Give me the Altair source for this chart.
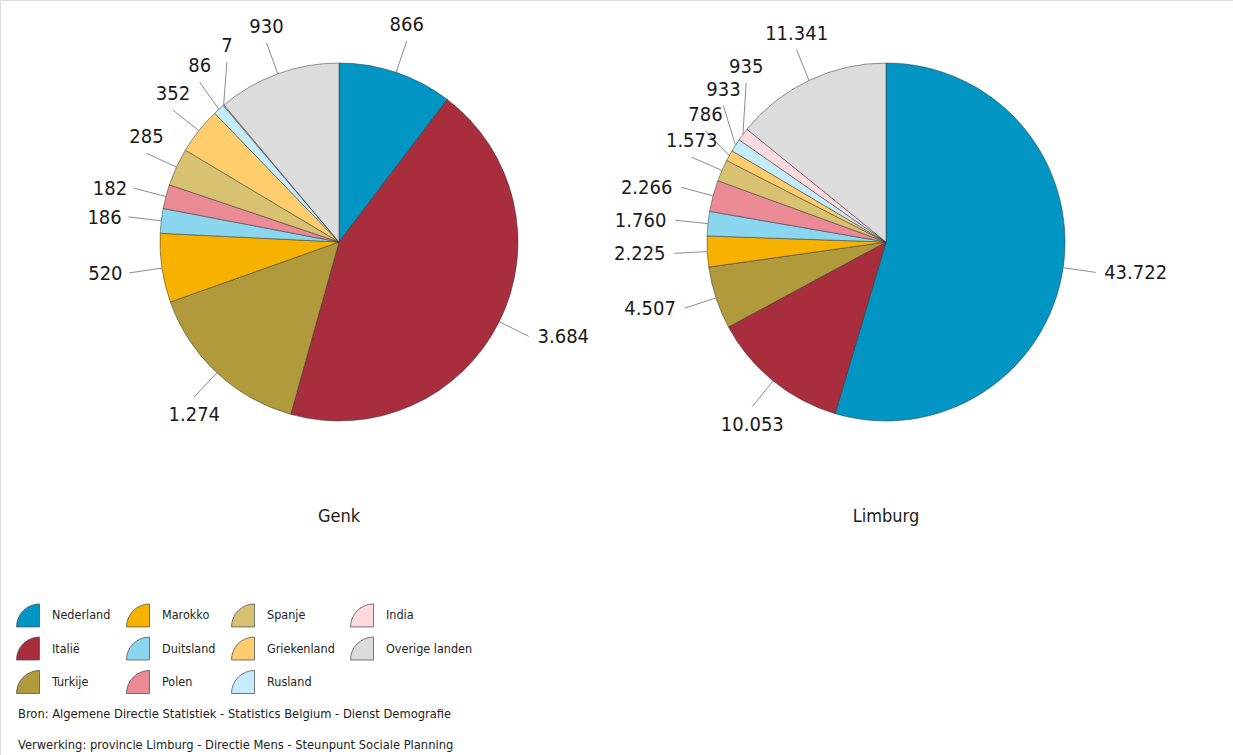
import altair as alt
import pandas as pd

# ---------------- data ----------------
countries = ["Nederland", "Italië", "Turkije", "Marokko", "Duitsland", "Polen",
             "Spanje", "Griekenland", "Rusland", "India", "Overige landen"]
colors = ["#0095c3", "#a82e3e", "#b09a3c", "#f7b200", "#8ad6ee", "#e98a94",
          "#d9c172", "#ffcc6e", "#c5ecfa", "#fdd9e0", "#dcdcdc"]
genk = [866, 3684, 1274, 520, 186, 182, 285, 352, 86, 7, 930]
limburg = [43722, 10053, 4507, 2225, 1760, 2266, 1573, 786, 933, 935, 11341]
cities = ["Genk", "Limburg"]
source_lines = ["Bron: Algemene Directie Statistiek - Statistics Belgium - Dienst Demografie",
                "Verwerking: provincie Limburg - Directie Mens - Steunpunt Sociale Planning"]

rows = []
for city, vals in zip(cities, [genk, limburg]):
    for i, (c, v) in enumerate(zip(countries, vals)):
        rows.append({"city": city, "country": c, "idx": i, "value": v})
df = pd.DataFrame(rows)

# ---------------- layout / style ----------------
FONT = "DejaVu Sans Condensed, DejaVu Sans"
W, H = 1233, 755
CENTERS = {"Genk": (339, 242), "Limburg": (886, 242)}
R_PIE = 179
R_LINE0 = 179
R_LINE1 = 212
QUARTER = "M1,1 L-1,1 A2,2 0 0 1 1,-1 Z"

color = alt.Color(
    "country:N",
    scale=alt.Scale(domain=countries, range=colors),
    legend=alt.Legend(
        title=None, orient="none", legendX=16, legendY=603, columns=4,
        columnPadding=13, rowPadding=5.5, symbolType=QUARTER, symbolSize=529,
        symbolStrokeColor="#555555", symbolStrokeWidth=0.8, symbolOpacity=1,
        labelFont=FONT, labelFontSize=12.5, labelColor="#222222",
        labelOffset=12, padding=0, gridAlign="each",
    ),
)

layers = []
for city in cities:
    cx, cy = CENTERS[city]
    base = alt.Chart(df).transform_filter(alt.datum.city == city)

    pie = base.mark_arc(radius=R_PIE, stroke="#333333", strokeWidth=0.6,
                        strokeOpacity=0.85).encode(
        theta=alt.Theta("value:Q", stack="normalize"),
        order=alt.Order("idx:Q"),
        color=color,
        x=alt.value(cx), y=alt.value(cy),
    )

    lab = (base
           .transform_joinaggregate(total="sum(value)")
           .transform_window(cum="sum(value)", sort=[alt.SortField("idx")])
           .transform_calculate(
               mid="(datum.cum - datum.value/2)/datum.total*360",
               label="replace(format(datum.value, ','), ',', '.')",
           )
           .transform_calculate(hw="length(datum.label)*5.3")
           .transform_window(prevhw="lag(hw)", sort=[alt.SortField("idx")])
           .transform_calculate(
               sep=(f"datum.idx == 0 ? 0 : min(26/({R_LINE1}*abs(sin(datum.mid*PI/180))+0.001),"
                    f" (datum.hw + datum.prevhw + 10)/({R_LINE1}*abs(cos(datum.mid*PI/180))+0.001))*180/PI")
           )
           .transform_window(cumsep="sum(sep)", sort=[alt.SortField("idx")])
           .transform_calculate(shifted="datum.mid - datum.cumsep")
           .transform_window(cmax="max(shifted)", sort=[alt.SortField("idx")])
           .transform_calculate(la="datum.cmax + datum.cumsep")
           .transform_calculate(
               x0=f"{cx} + {R_LINE0}*sin(datum.mid*PI/180)",
               y0=f"{cy} - {R_LINE0}*cos(datum.mid*PI/180)",
               x1=f"{cx} + {R_LINE1}*sin(datum.la*PI/180)",
               y1=f"{cy} - {R_LINE1}*cos(datum.la*PI/180)",
               horiz="(datum.la > 60 && datum.la < 150) || (datum.la > 240 && datum.la < 290)",
           )
           .transform_calculate(
               tx="datum.horiz ? datum.x1 + (sin(datum.la*PI/180) > 0 ? 1 : -1)*(datum.hw + 8) : datum.x1",
               ty="datum.horiz ? datum.y1 : datum.y1 + (cos(datum.la*PI/180) > 0 ? -17 : 17)",
           ))

    lines = lab.mark_rule(color="#8c8c8c", strokeWidth=1).encode(
        x=alt.X("x0:Q", scale=None), y=alt.Y("y0:Q", scale=None),
        x2="x1:Q", y2="y1:Q",
    )
    texts = lab.mark_text(font=FONT, fontSize=20, color="#1a1a1a",
                          align="center", baseline="middle", dy=1).encode(
        x=alt.X("tx:Q", scale=None), y=alt.Y("ty:Q", scale=None),
        text="label:N",
    )
    title = alt.Chart(pd.DataFrame({"city": [city]})).mark_text(
        font=FONT, fontSize=18, color="#1a1a1a", align="center", baseline="middle"
    ).encode(x=alt.value(cx), y=alt.value(517), text="city:N")
    layers += [pie, lines, texts, title]

for i, line in enumerate(source_lines):
    src = alt.Chart(pd.DataFrame({"line": [line]})).mark_text(
        font=FONT, fontSize=12.8, color="#222222", align="left", baseline="middle"
    ).encode(x=alt.value(18), y=alt.value(714 + 31 * i), text="line:N")
    layers.append(src)

chart = alt.layer(*layers).resolve_scale(theta="independent").properties(
    width=W, height=H, autosize=alt.AutoSizeParams(type="none"), padding=0,
).configure_view(stroke=None).configure(background="white")

chart.save("out.html", embed_options={"renderer": "svg", "actions": False})
